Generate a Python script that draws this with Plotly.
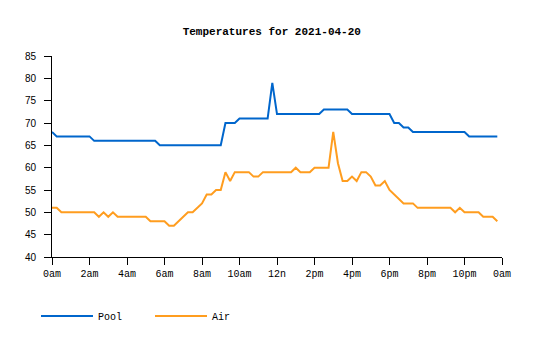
import pandas as pd
import plotly.graph_objects as go

# 15-minute samples for 2021-04-20
times = pd.date_range("2021-04-20 00:00", periods=96, freq="15min")

pool = [68, 67, 67, 67, 67, 67, 67, 67, 67, 66,
        66, 66, 66, 66, 66, 66, 66, 66, 66, 66,
        66, 66, 66, 65, 65, 65, 65, 65, 65, 65,
        65, 65, 65, 65, 65, 65, 65, 70, 70, 70,
        71, 71, 71, 71, 71, 71, 71, 79, 72, 72,
        72, 72, 72, 72, 72, 72, 72, 72, 73, 73,
        73, 73, 73, 73, 72, 72, 72, 72, 72, 72,
        72, 72, 72, 70, 70, 69, 69, 68, 68, 68,
        68, 68, 68, 68, 68, 68, 68, 68, 68, 67,
        67, 67, 67, 67, 67, 67]

air = [51, 51, 50, 50, 50, 50, 50, 50, 50, 50,
       49, 50, 49, 50, 49, 49, 49, 49, 49, 49,
       49, 48, 48, 48, 48, 47, 47, 48, 49, 50,
       50, 51, 52, 54, 54, 55, 55, 59, 57, 59,
       59, 59, 59, 58, 58, 59, 59, 59, 59, 59,
       59, 59, 60, 59, 59, 59, 60, 60, 60, 60,
       68, 61, 57, 57, 58, 57, 59, 59, 58, 56,
       56, 57, 55, 54, 53, 52, 52, 52, 51, 51,
       51, 51, 51, 51, 51, 51, 50, 51, 50, 50,
       50, 50, 49, 49, 49, 48]

tick_vals = pd.date_range("2021-04-20 00:00", periods=13, freq="2h")
tick_text = ["0am", "2am", "4am", "6am", "8am", "10am", "12n",
             "2pm", "4pm", "6pm", "8pm", "10pm", "0am"]
y_ticks = [40, 45, 50, 55, 60, 65, 70, 75, 80, 85]

MONO = "Liberation Mono, DejaVu Sans Mono, monospace"

fig = go.Figure()
fig.add_trace(go.Scatter(x=times, y=pool, mode="lines", name="Pool",
                         line=dict(color="#0066cc", width=2)))
fig.add_trace(go.Scatter(x=times, y=air, mode="lines", name="Air",
                         line=dict(color="#ff9d1f", width=2)))

fig.update_layout(
    width=535, height=340,
    margin=dict(l=52, r=33, t=56, b=83),
    paper_bgcolor="white", plot_bgcolor="white",
    title=dict(text="<b>Temperatures for 2021-04-20</b>",
               font=dict(family=MONO, size=11, color="black"),
               x=0.508, xanchor="center", y=1 - 31 / 340, yanchor="middle"),
    showlegend=True,
    legend=dict(orientation="h", xref="container", yref="container",
                x=36 / 535, xanchor="left", y=1 - 316 / 340, yanchor="middle",
                font=dict(family=MONO, size=10, color="black"),
                itemwidth=52, entrywidth=47, entrywidthmode="pixels",
                bgcolor="rgba(0,0,0,0)"),
)

fig.update_xaxes(
    range=["2021-04-20 00:00", "2021-04-21 00:00"],
    tickvals=list(tick_vals), ticktext=tick_text,
    ticks="outside", ticklen=7, tickcolor="black", tickwidth=1,
    showline=True, linecolor="black", linewidth=1,
    showgrid=False, zeroline=False,
    tickfont=dict(family=MONO, size=10, color="black"),
)
fig.update_yaxes(
    range=[40, 85], tickvals=y_ticks,
    ticks="outside", ticklen=7, tickcolor="black", tickwidth=1,
    showline=True, linecolor="black", linewidth=1,
    showgrid=False, zeroline=False, ticklabelstandoff=6,
    tickfont=dict(family="Liberation Sans, Arial, sans-serif", size=10, color="black"),
)

fig.write_html("out.html")
